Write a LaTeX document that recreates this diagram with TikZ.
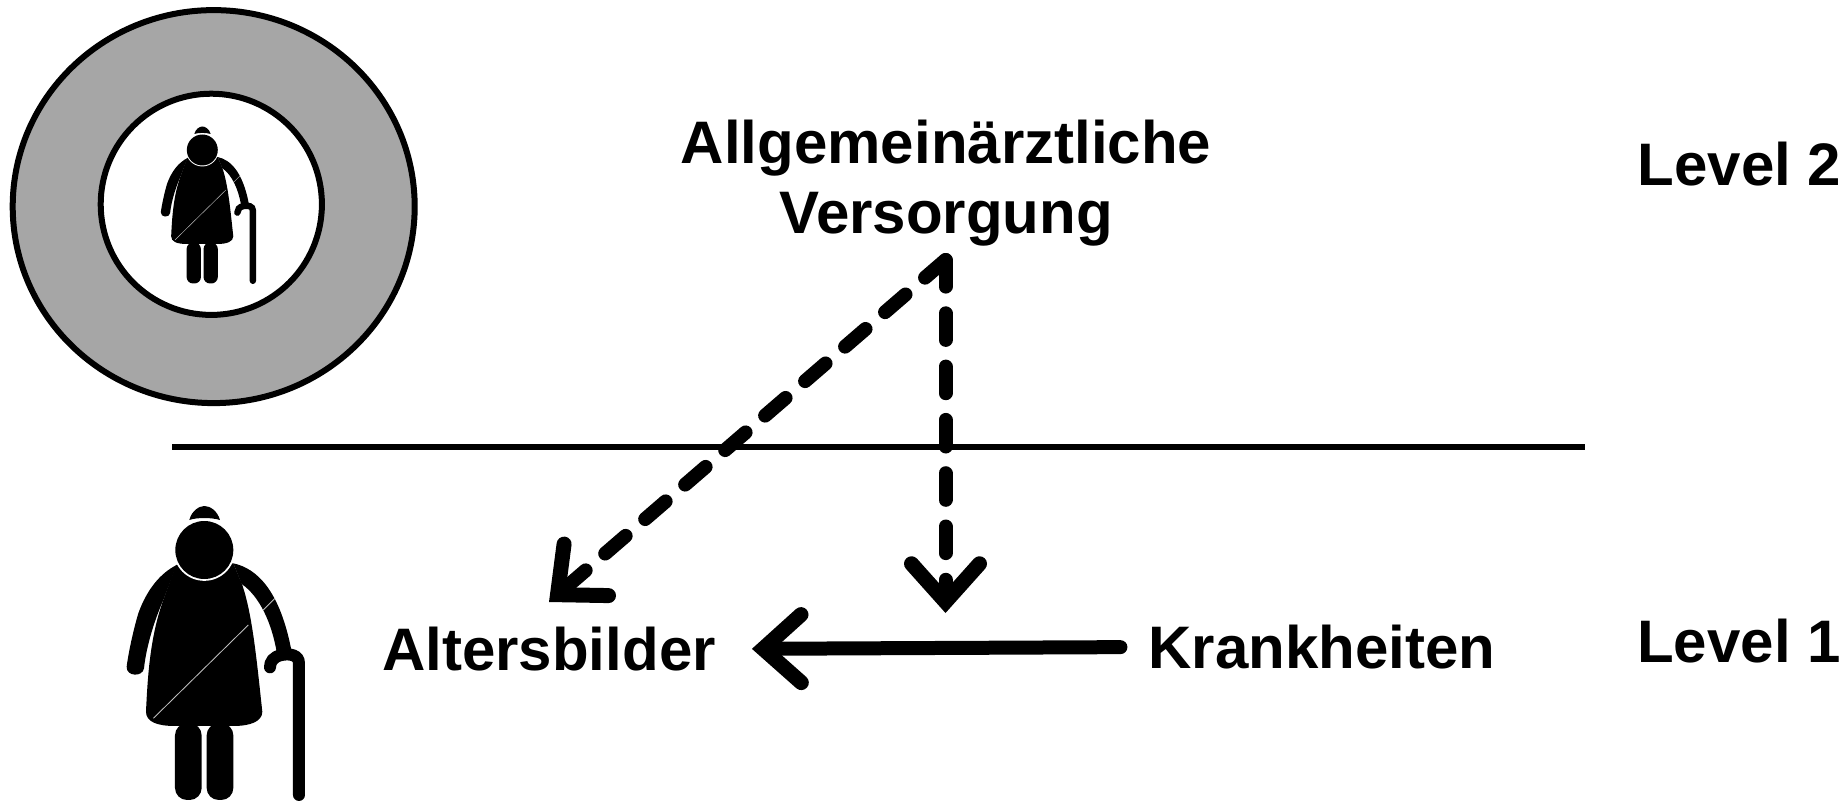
\documentclass[tikz,border=0pt]{standalone}
\usepackage{fontspec}
\setmainfont{Liberation Sans}
\usetikzlibrary{arrows.meta}
\tikzset{
  label text/.style={font=\bfseries\fontsize{60}{70}\selectfont,text=black,inner sep=0pt,align=center},
  barb/.style={-{Straight Barb[length=38pt,width=68pt,line width=15pt,line cap=round,line join=miter]}},
  dashvert/.style={barb,line width=14pt,line cap=round,dash pattern=on 26.6pt off 26.7pt},
  dashdiag/.style={barb,line width=14pt,line cap=round,dash pattern=on 27pt off 25.8pt},
  solidarrow/.style={barb,line width=14pt,line cap=round}
}
\newcommand{\elder}[3]{%
\begin{scope}[xshift=#1pt,yshift=-#2pt,x=#3pt,y=-#3pt]
  % dress
  \fill[black] (228,255) -- (400,250)
     -- (425,310) .. controls (458,400) and (472,560) .. (487,695)
     .. controls (487,725) and (450,738) .. (400,738) -- (225,738)
     .. controls (170,738) and (138,725) .. (138,695)
     .. controls (143,590) and (150,470) .. (190,360) -- cycle;
  % left arm
  \fill[black] (230,255) .. controls (180,280) and (140,330) .. (115,400)
     .. controls (100,450) and (85,520) .. (80,560)
     .. controls (78,590) and (128,592) .. (132,565)
     .. controls (140,490) and (168,410) .. (190,360) -- cycle;
  % right arm
  \fill[black] (400,250) .. controls (470,265) and (540,330) .. (575,515)
     -- (530,515) .. controls (515,430) and (480,350) .. (425,312) -- cycle;
  % legs
  \fill[black,rounded corners={36pt*#3}] (225,730) -- (305,730) -- (305,960) -- (225,960) -- cycle;
  \fill[black,rounded corners={36pt*#3}] (320,730) -- (400,730) -- (400,960) -- (320,960) -- cycle;
  % cane
  \draw[black,line width={36pt*#3},line cap=round] (597,945) -- (597,550) .. controls (597,525) and (570,520) .. (545,525) .. controls (520,530) and (510,545) .. (510,562);
  % highlight
  \draw[white!75!black,line width={2.5pt*#3}] (160,715) -- (445,435) (490,390) -- (525,355);
  % head
  \fill[white] (313,210) circle (92.5);
  \fill[black] (313,210) circle (87);
  \fill[black] (268,120) .. controls (275,92) and (298,78) .. (313,78) .. controls (330,78) and (352,92) .. (360,120) .. controls (335,112) and (290,112) .. (268,120) -- cycle;
\end{scope}}
\begin{document}
\begin{tikzpicture}[x=1pt,y=-1pt]
  \useasboundingbox (0,0) rectangle (1846,801);
  \draw[black,line width=6pt,fill=black!35] (213.7,206.6) ellipse [x radius=201,y radius=196.5];
  \draw[black,line width=6pt,fill=white] (211.3,204.3) circle (110.6);
  \elder{146.6}{112.6}{.178}
  \elder{100}{480}{.3333}
  \node[label text] (allg) at (946,183.5) {Allgemeinärztliche\\Versorgung};
  \node[label text] (lvltwo) at (1739.5,164) {Level 2};
  \node[label text] (lvlone) at (1739,641) {Level 1};
  \node[label text] (alters) at (549,649) {Altersbilder};
  \node[label text] (krank) at (1322,647) {Krankheiten};
  \coordinate (ruleleft) at (172,446.7);
  \coordinate (ruleright) at (1585,446.7);
  \coordinate (apex) at (945.5,260);
  \coordinate (vtip) at (945.5,613);
  \coordinate (dtip) at (549,602);
  \draw[black,line width=6pt] (ruleleft) -- (ruleright);
  \draw[dashvert] (apex) -- (vtip);
  \draw[dashdiag] (apex) -- (dtip);
  \draw[solidarrow,shorten <=28pt,shorten >=36pt] (krank.west) -- (alters.east);
\end{tikzpicture}
\end{document}
